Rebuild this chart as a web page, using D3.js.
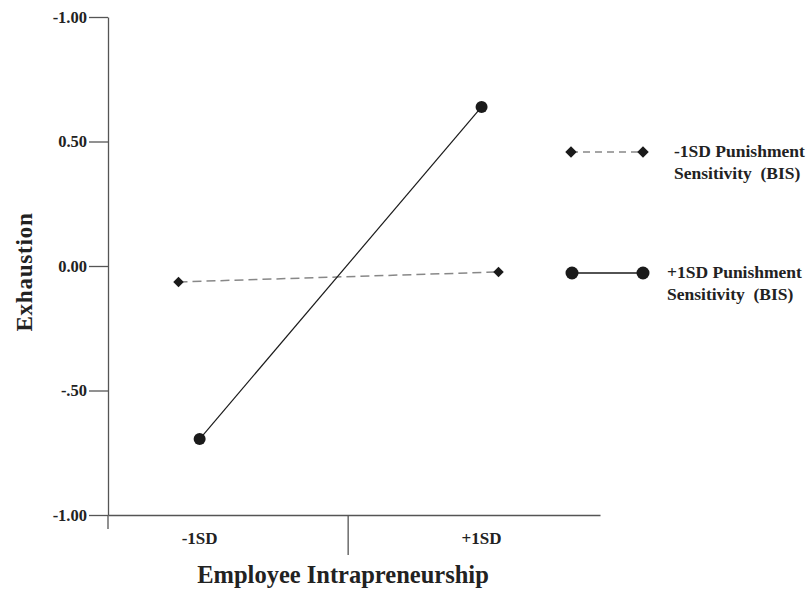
<!DOCTYPE html>
<html lang="en">
<head>
  <meta charset="UTF-8">
  <title>Exhaustion by Employee Intrapreneurship</title>
  <script src="https://d3js.org/d3.v7.min.js"></script>
  <style>
    body {
      margin: 0;
      background: #fff;
    }
    svg text {
      font-family: "Liberation Serif", "Times New Roman", serif;
      font-weight: bold;
      fill: #222;
    }
    .axis path, .axis line {
      stroke: #555;
      stroke-width: 1.3px;
    }
  </style>
</head>
<body>
  <svg width="806" height="589"></svg>

  <script>
    // data
    const categories = ["-1SD", "+1SD"];
    const categoryX = [-1, 1];
    const splitTick = 0.05;

    const yTicks = [-1, -0.5, 0, 0.5, 1];
    const yTickLabels = ["-1.00", "-.50", "0.00", "0.50", "-1.00"];

    const lowBisX = [-1.15, 1.12];
    const lowBisY = [-0.064, -0.024];
    const highBisX = [-1, 1];
    const highBisY = [-0.695, 0.639];

    const seriesNames = [
      ["-1SD Punishment", "Sensitivity  (BIS)"],
      ["+1SD Punishment", "Sensitivity  (BIS)"]
    ];

    const svg = d3.select("svg");

    const x = d3.scaleLinear().domain([-1.65, 1.84]).range([108, 600]);
    const y = d3.scaleLinear().domain([-1, 1]).range([515, 17]);

    // y axis
    const yAxis = svg.append("g")
      .attr("class", "axis")
      .attr("transform", "translate(108,0)")
      .call(d3.axisLeft(y)
        .tickValues(yTicks)
        .tickSize(19)
        .tickSizeOuter(0)
        .tickPadding(2)
        .tickFormat((d, i) => yTickLabels[i]));
    yAxis.selectAll("text")
      .style("font-size", "16.5px")
      .attr("fill", "#222");

    // y axis runs a bit below the x axis
    svg.append("line")
      .attr("x1", 108).attr("x2", 108)
      .attr("y1", y(-1)).attr("y2", y(-1) + 14)
      .attr("stroke", "#555").attr("stroke-width", 1.3);

    // x axis with only the split tick
    svg.append("g")
      .attr("class", "axis")
      .attr("transform", `translate(0,${y(-1)})`)
      .call(d3.axisBottom(x)
        .tickValues([splitTick])
        .tickSize(40)
        .tickSizeOuter(0)
        .tickFormat(""));

    // category labels
    svg.selectAll(".cat")
      .data(categories)
      .join("text")
      .attr("class", "cat")
      .attr("x", (d, i) => x(categoryX[i]))
      .attr("y", y(-1) + 29)
      .attr("text-anchor", "middle")
      .style("font-size", "17px")
      .text(d => d);

    // axis titles
    svg.append("text")
      .attr("x", 343)
      .attr("y", 583)
      .attr("text-anchor", "middle")
      .style("font-size", "24.5px")
      .text("Employee Intrapreneurship");

    svg.append("text")
      .attr("transform", `translate(32,${(y(1) + y(-1)) / 2 + 6}) rotate(-90)`)
      .attr("text-anchor", "middle")
      .style("font-size", "23px")
      .style("letter-spacing", "0.8px")
      .text("Exhaustion");

    const line = d3.line().x(d => x(d[0])).y(d => y(d[1]));
    const diamond = d3.symbol().type(d3.symbolDiamond2).size(70);

    // -1SD BIS: dashed grey line with diamonds
    const lowPts = d3.zip(lowBisX, lowBisY);
    svg.append("path")
      .attr("d", line(lowPts))
      .attr("fill", "none")
      .attr("stroke", "#888")
      .attr("stroke-width", 1.5)
      .attr("stroke-dasharray", "9,5");
    svg.selectAll(".low")
      .data(lowPts)
      .join("path")
      .attr("class", "low")
      .attr("d", diamond)
      .attr("transform", d => `translate(${x(d[0])},${y(d[1])})`)
      .attr("fill", "#1a1a1a");

    // +1SD BIS: solid line with circles
    const highPts = d3.zip(highBisX, highBisY);
    svg.append("path")
      .attr("d", line(highPts))
      .attr("fill", "none")
      .attr("stroke", "#1a1a1a")
      .attr("stroke-width", 1.2);
    svg.selectAll(".high")
      .data(highPts)
      .join("circle")
      .attr("class", "high")
      .attr("cx", d => x(d[0]))
      .attr("cy", d => y(d[1]))
      .attr("r", 6)
      .attr("fill", "#1a1a1a");

    // legend
    const legendY = [152, 273];
    const legendTextX = [674, 667];

    const lg0 = svg.append("g");
    lg0.append("line")
      .attr("x1", 571).attr("x2", 643)
      .attr("y1", legendY[0]).attr("y2", legendY[0])
      .attr("stroke", "#888").attr("stroke-width", 1.5)
      .attr("stroke-dasharray", "7,5");
    [571, 643].forEach(cx => {
      lg0.append("path")
        .attr("d", d3.symbol().type(d3.symbolDiamond2).size(85)())
        .attr("transform", `translate(${cx},${legendY[0]})`)
        .attr("fill", "#1a1a1a");
    });

    const lg1 = svg.append("g");
    lg1.append("line")
      .attr("x1", 572).attr("x2", 643)
      .attr("y1", legendY[1]).attr("y2", legendY[1])
      .attr("stroke", "#1a1a1a").attr("stroke-width", 1.5);
    [572, 643].forEach(cx => {
      lg1.append("circle")
        .attr("cx", cx).attr("cy", legendY[1])
        .attr("r", 6.5)
        .attr("fill", "#1a1a1a");
    });

    seriesNames.forEach((lines, i) => {
      const t = svg.append("text")
        .attr("x", legendTextX[i])
        .attr("y", legendY[i] + 5)
        .style("font-size", "17.5px");
      lines.forEach((s, j) => {
        t.append("tspan")
          .attr("x", legendTextX[i])
          .attr("dy", j === 0 ? 0 : 22)
          .style("white-space", "pre")
          .text(s);
      });
    });
  </script>
</body>
</html>
